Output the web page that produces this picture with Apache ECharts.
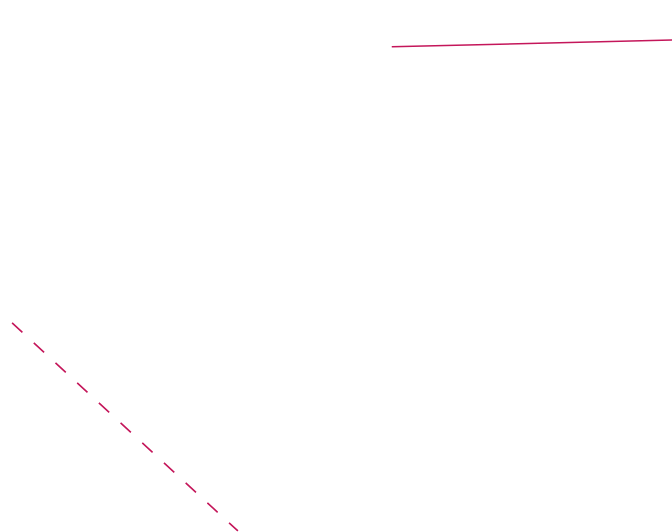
<!DOCTYPE html>
<html>
<head>
<meta charset="utf-8">
<style>
  html, body { margin: 0; padding: 0; background: #fff; }
  #main { width: 672px; height: 532px; }
</style>
<script src="https://cdn.jsdelivr.net/npm/echarts@6/dist/echarts.min.js"></script>
</head>
<body>
<div id="main"></div>
<script>
// values (x and y on a 0-100 scale)
var solidX = [58.3, 100];
var solidY = [91.2, 92.5];
var dashedX = [1.8, 35.4];
var dashedY = [39.3, 0.2];

var lineColor = '#c4165a';

function pairs(xs, ys) {
    return xs.map(function (x, i) { return [x, ys[i]]; });
}

var myChart = echarts.init(document.getElementById('main'), null, {renderer: 'svg'});

var option = {
    animation: false,
    grid: { left: 0, right: 0, top: 0, bottom: 0 },
    xAxis: { type: 'value', min: 0, max: 100, show: false },
    yAxis: { type: 'value', min: 0, max: 100, show: false },
    series: [
        {
            type: 'line',
            data: pairs(solidX, solidY),
            symbol: 'none',
            lineStyle: { color: lineColor, width: 1.5 }
        },
        {
            type: 'line',
            data: pairs(dashedX, dashedY),
            symbol: 'none',
            lineStyle: { color: lineColor, width: 1.6, type: [14, 15.5] }
        }
    ]
};

myChart.setOption(option);
</script>
</body>
</html>
